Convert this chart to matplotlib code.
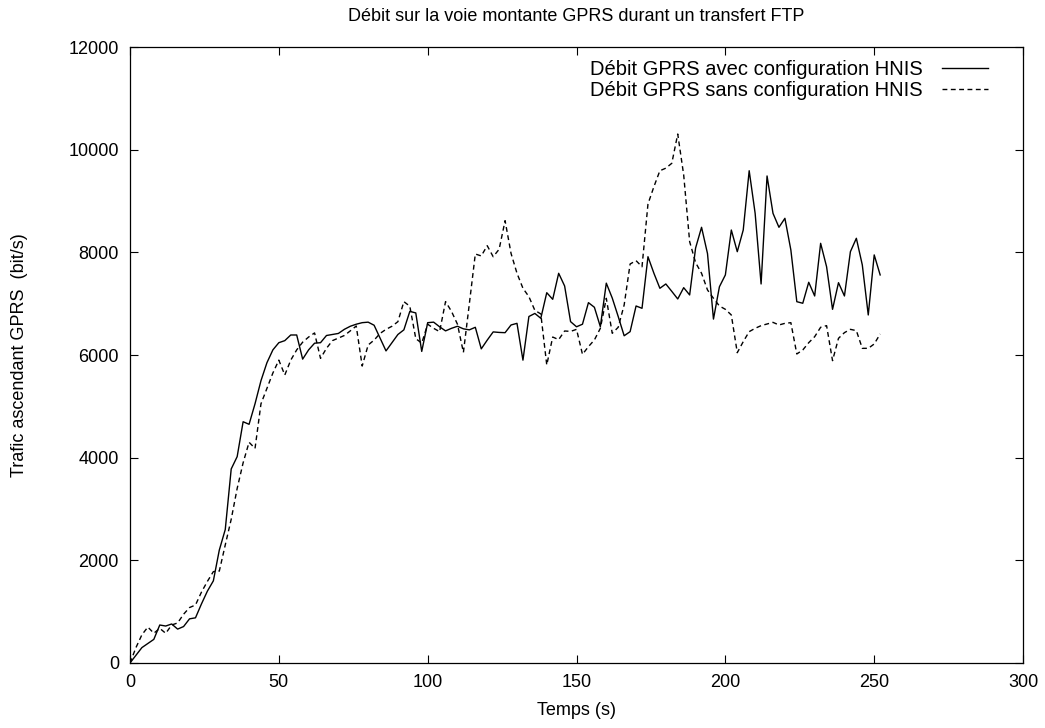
import matplotlib
matplotlib.use('Agg')
import matplotlib.pyplot as plt
import numpy as np

plt.rcParams['font.family'] = ['Liberation Sans', 'DejaVu Sans']

# time axis, one sample every 2 s
temps = np.arange(0, 254, 2)

# upload rate with HNIS configuration (bit/s)
avec_hnis = [
    0, 150, 300, 380, 460, 740, 720, 760, 660, 710,
    860, 880, 1150, 1400, 1600, 2200, 2600, 3780, 4020, 4700,
    4650, 5050, 5500, 5850, 6100, 6240, 6280, 6390, 6390, 5920,
    6100, 6230, 6240, 6380, 6400, 6420, 6500, 6560, 6600, 6630,
    6640, 6580, 6330, 6080, 6240, 6400, 6490, 6850, 6820, 6070,
    6630, 6640, 6550, 6470, 6520, 6560, 6510, 6490, 6540, 6120,
    6290, 6450, 6440, 6435, 6585, 6617, 5900, 6750, 6810, 6715,
    7214, 7085, 7592, 7345, 6650, 6550, 6600, 7020, 6930, 6552,
    7400, 7110, 6750, 6375, 6455, 6955, 6910, 7915, 7592, 7300,
    7384, 7240, 7092, 7312, 7170, 8085, 8488, 7975, 6700, 7330,
    7560, 8435, 8013, 8435, 9590, 8760, 7384, 9488, 8760, 8488,
    8663, 8046, 7039, 7008, 7417, 7150, 8176, 7720, 6890, 7409,
    7150, 8013, 8274, 7754, 6780, 7950, 7560,
]

# upload rate without HNIS configuration (bit/s)
sans_hnis = [
    0, 300, 550, 700, 580, 675, 578, 740, 780, 950,
    1080, 1130, 1380, 1590, 1780, 1790, 2300, 2800, 3400, 3900,
    4300, 4180, 5050, 5350, 5650, 5900, 5610, 5900, 6100, 6250,
    6350, 6430, 5935, 6130, 6280, 6330, 6380, 6470, 6565, 5785,
    6195, 6290, 6420, 6500, 6560, 6650, 7040, 6950, 6320, 6230,
    6600, 6520, 6455, 7040, 6850, 6600, 6050, 7000, 7968, 7930,
    8130, 7915, 8060, 8617, 7980, 7592, 7300, 7137, 6870, 6800,
    5806, 6350, 6300, 6468, 6460, 6500, 6013, 6163, 6293, 6520,
    7105, 6423, 6540, 6975, 7773, 7838, 7720, 8942, 9280, 9590,
    9640, 9735, 10305, 9507, 8208, 7800, 7592, 7267, 7105, 6955,
    6890, 6780, 6045, 6260, 6455, 6520, 6572, 6604, 6636, 6585,
    6617, 6630, 6020, 6098, 6240, 6357, 6540, 6572, 5890, 6325,
    6436, 6500, 6475, 6130, 6130, 6215, 6410,
]

x_ticks = [0, 50, 100, 150, 200, 250, 300]
y_ticks = [0, 2000, 4000, 6000, 8000, 10000, 12000]

fs = 13

fig = plt.figure(figsize=(10.45, 7.28), dpi=100)
ax = fig.add_axes([0.1244, 0.0893, 0.8546, 0.8461])

ax.plot(temps, avec_hnis, color='black', lw=1.0,
        label='Débit GPRS avec configuration HNIS')
ax.plot(temps, sans_hnis, color='black', lw=1.0, linestyle=(0, (3.5, 2.5)),
        label='Débit GPRS sans configuration HNIS')

ax.set_xlim(0, 300)
ax.set_ylim(0, 12000)
ax.set_xticks(x_ticks)
ax.set_yticks(y_ticks)
ax.tick_params(direction='in', length=6, width=0.8, top=True, right=True,
               labelsize=fs, pad=8)
for s in ax.spines.values():
    s.set_linewidth(0.9)

ax.set_xlabel('Temps (s)', fontsize=fs, labelpad=8)
ax.set_ylabel('Trafic ascendant GPRS  (bit/s)', fontsize=fs, labelpad=29)
ax.set_title('Débit sur la voie montante GPRS durant un transfert FTP',
             fontsize=fs, pad=19)

ax.legend(loc='upper right', bbox_to_anchor=(0.961, 0.979),
          markerfirst=False, frameon=False, prop={'size': 14.5},
          handlelength=2.3, labelspacing=0.08, borderaxespad=0.0,
          handletextpad=0.95, borderpad=0.0)

fig.savefig('out.png', dpi=100)
